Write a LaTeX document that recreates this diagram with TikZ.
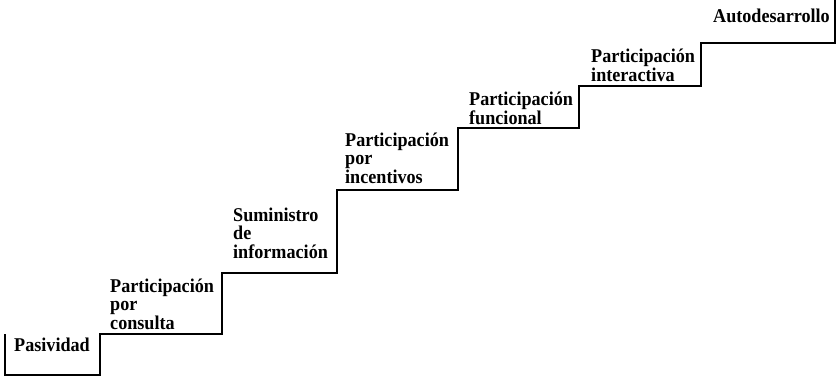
\documentclass[tikz,border=0pt]{standalone}
\usepackage{fontspec}
\setmainfont{Liberation Serif}[FakeStretch=0.93]
\begin{document}
\begin{tikzpicture}[x=1pt,y=-1pt,
  lbl/.style={inner sep=0pt,anchor=base west,align=left,font=\fontsize{19.5}{18.5}\selectfont\bfseries},
  stair/.style={line width=2pt,line join=miter}]
\useasboundingbox (0,0) rectangle (837,376);
\draw[stair] (5,334) -- (5,375) -- (100,375) -- (100,334) -- (222,334) -- (222,273)
  -- (337,273) -- (337,190) -- (458,190) -- (458,128) -- (579,128) -- (579,86)
  -- (701,86) -- (701,43) -- (835,43) -- (835,0);
\node[lbl] (pas) at (14,351) {Pasividad};
\node[lbl] (cons) at (110,329) {Participación\\por\\consulta};
\node[lbl] (sum) at (233,258) {Suministro\\de\\información};
\node[lbl] (inc) at (345,183) {Participación\\por\\incentivos};
\node[lbl] (fun) at (469,124) {Participación\\funcional};
\node[lbl] (int) at (591,81) {Participación\\interactiva};
\node[lbl] (auto) at (713,22) {Autodesarrollo};
\end{tikzpicture}
\end{document}
